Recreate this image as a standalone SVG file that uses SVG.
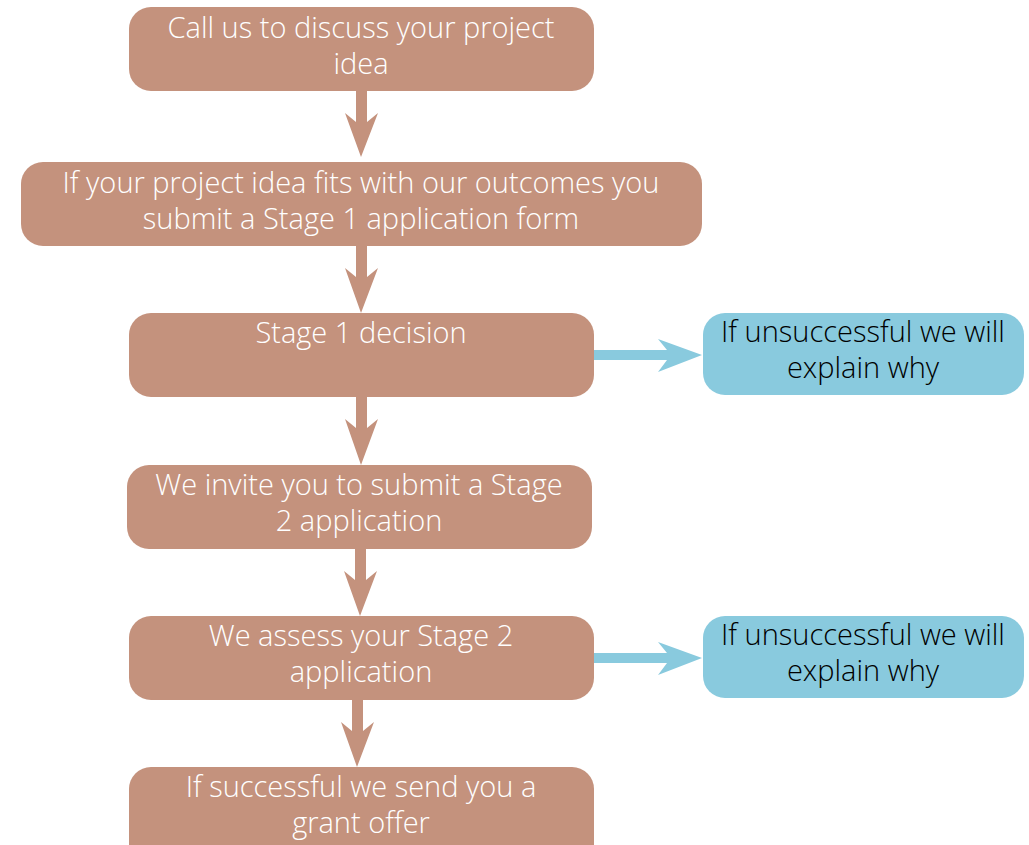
<svg xmlns="http://www.w3.org/2000/svg" width="1029" height="845" viewBox="0 0 1029 845">
<style>
.b{fill:#C4927D}
.c{fill:#89CADE}
.t{font-family:"Open Sans",sans-serif;font-weight:300;font-size:29px;text-anchor:middle;fill:#fff}
.k{fill:#000}
.a{fill:#C4927D}
.ab{fill:#89CADE}
</style>
<rect width="1029" height="845" fill="#fff"/>
<g id="n1"><rect class="b" x="129" y="7" width="465" height="84" rx="22"/><text class="t" x="361" y="38">Call us to discuss your project</text><text class="t" x="361" y="74">idea</text></g>
<g id="n2"><rect class="b" x="21" y="162" width="681" height="84" rx="22"/><text class="t" x="361" y="193">If your project idea fits with our outcomes you</text><text class="t" x="361" y="229">submit a Stage 1 application form</text></g>
<g id="n3"><rect class="b" x="129" y="313" width="465" height="84" rx="22"/><text class="t" x="361" y="343">Stage 1 decision</text></g>
<g id="n4"><rect class="b" x="127" y="465" width="465" height="84" rx="22"/><text class="t" x="359" y="495">We invite you to submit a Stage</text><text class="t" x="359" y="531">2 application</text></g>
<g id="n5"><rect class="b" x="129" y="616" width="465" height="84" rx="22"/><text class="t" x="361" y="646">We assess your Stage 2</text><text class="t" x="361" y="682">application</text></g>
<g id="n6"><rect class="b" x="129" y="767" width="465" height="100" rx="22"/><text class="t" x="361" y="797">If successful we send you a</text><text class="t" x="361" y="833">grant offer</text></g>
<g id="n7"><rect class="c" x="703" y="313" width="321" height="82" rx="22"/><text class="t k" x="863" y="342">If unsuccessful we will</text><text class="t k" x="863" y="378">explain why</text></g>
<g id="n8"><rect class="c" x="703" y="616" width="321" height="82" rx="22"/><text class="t k" x="863" y="645">If unsuccessful we will</text><text class="t k" x="863" y="681">explain why</text></g>
<g id="connectors">
<path class="a" d="M356,91 H367 V122 L378,113 L361,157 L345,113 L356,122 Z"/>
<path class="a" d="M356,246 H367 V277 L378,268 L361,313 L345,268 L356,277 Z"/>
<path class="a" d="M356,397 H367 V428 L378,419 L361,465 L345,419 L356,428 Z"/>
<path class="a" d="M355,549 H366 V580 L377,571 L360,616 L344,571 L355,580 Z"/>
<path class="a" d="M352,700 H363 V731 L374,722 L357,767 L341,722 L352,731 Z"/>
<path class="ab" d="M594,350 H667 L658,339 L702,355 L658,372 L667,360 H594 Z"/>
<path class="ab" d="M594,653 H667 L658,642 L702,658 L658,675 L667,663 H594 Z"/>
</g>
</svg>
